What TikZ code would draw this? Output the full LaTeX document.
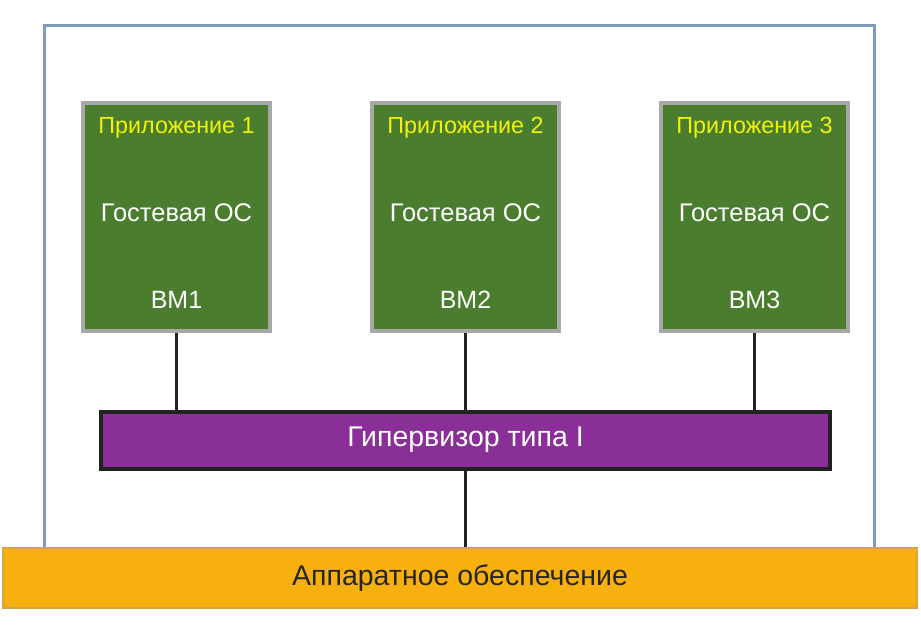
\documentclass[tikz,border=0pt]{standalone}
\usepackage{fontspec}
\setmainfont{Liberation Sans}
\definecolor{frameblue}{HTML}{7F9DB9}
\definecolor{vmgreen}{HTML}{4A7D2E}
\definecolor{vmgray}{HTML}{A8A8A8}
\definecolor{hvpurple}{HTML}{8B2F98}
\definecolor{hworange}{HTML}{F8B00E}
\definecolor{hwborder}{HTML}{D2A54A}
\definecolor{appyellow}{HTML}{F2F20A}
\definecolor{lineblk}{HTML}{222222}
\tikzset{
  vmbox/.style={draw=vmgray,line width=4pt,fill=vmgreen,minimum width=187pt,minimum height=228pt,inner sep=0pt},
  apptext/.style={text=appyellow,font=\fontsize{23.3}{27}\selectfont},
  ostext/.style={text=white,font=\fontsize{25.5}{29}\selectfont},
  bmtext/.style={text=white,font=\fontsize{25}{29}\selectfont},
  conn/.style={draw=lineblk,line width=3pt},
}
\begin{document}
\begin{tikzpicture}[x=1pt,y=-1pt]
\useasboundingbox (0,0) rectangle (921,639);
\fill[white] (0,0) rectangle (921,639);
% outer frame
\draw[frameblue,line width=3pt] (44.5,560) -- (44.5,25.5) -- (874.5,25.5) -- (874.5,560);
% VMs
\foreach \i/\x in {1/176.5,2/465.5,3/754.5}{
  \node[vmbox] (vm\i) at (\x,217) {};
  \node[apptext] (app\i) at (\x,128) {Приложение \i};
  \node[ostext] (os\i) at (\x,213) {Гостевая ОС};
  \node[bmtext] (bm\i) at (\x,300) {ВМ\i};
}
% hypervisor
\node[draw=lineblk,line width=4pt,fill=hvpurple,minimum width=729pt,minimum height=57pt,inner sep=0pt,text=white,font=\fontsize{28.5}{32}\selectfont] (hv) at (465.5,440) {Гипервизор типа I};
% hardware
\node[draw=hwborder,line width=2pt,fill=hworange,minimum width=914pt,minimum height=60pt,inner sep=0pt,text=black!85,font=\fontsize{28.5}{32}\selectfont] (hw) at (460,578) {Аппаратное обеспечение};
% connectors
\draw[conn] (vm1.south) -- (vm1.south |- hv.north);
\draw[conn] (vm2.south) -- (vm2.south |- hv.north);
\draw[conn] (vm3.south) -- (vm3.south |- hv.north);
\draw[conn] (hv.south) -- (hv.south |- hw.north);
\end{tikzpicture}
\end{document}
